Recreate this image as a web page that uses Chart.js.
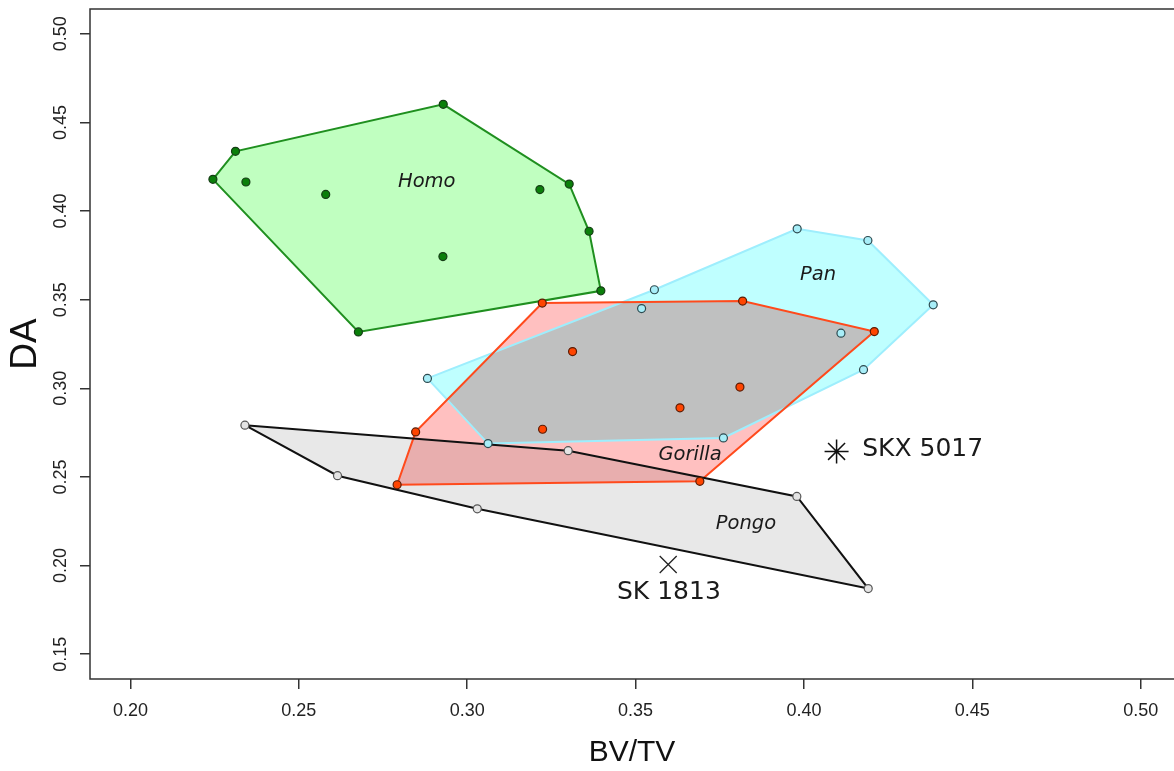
<!DOCTYPE html>
<html>
<head>
<meta charset="utf-8">
<script src="https://cdn.jsdelivr.net/npm/chart.js@4.4.1/dist/chart.umd.min.js"></script>
<style>
  html, body { margin: 0; padding: 0; background: #fff; overflow: hidden; }
  canvas { display: block; }
</style>
</head>
<body>
<canvas id="hullChart" width="1174" height="771"></canvas>
<script>
// Specimen values (BV/TV on x, DA on y)
const homoBV = [0.2245, 0.2312, 0.2343, 0.2580, 0.2929, 0.3216, 0.3303, 0.3362, 0.2928, 0.3397, 0.2677];
const homoDA = [0.4179, 0.4337, 0.4164, 0.4094, 0.4602, 0.4121, 0.4152, 0.3886, 0.3743, 0.3550, 0.3318];
const homoHull = [0, 1, 4, 6, 7, 9, 10];

const panBV = [0.2882, 0.3062, 0.3518, 0.3556, 0.3761, 0.3980, 0.4110, 0.4177, 0.4190, 0.4384];
const panDA = [0.3056, 0.2688, 0.3450, 0.3556, 0.2720, 0.3900, 0.3311, 0.3105, 0.3834, 0.3471];
const panHull = [0, 3, 5, 8, 9, 7, 4, 1];

const gorillaBV = [0.2792, 0.2847, 0.3223, 0.3224, 0.3313, 0.3632, 0.3691, 0.3810, 0.3818, 0.4209];
const gorillaDA = [0.2456, 0.2754, 0.3481, 0.2769, 0.3207, 0.2890, 0.2475, 0.3007, 0.3492, 0.3320];
const gorillaHull = [2, 8, 9, 6, 0, 1];

const pongoBV = [0.2340, 0.2615, 0.3030, 0.3300, 0.3979, 0.4191];
const pongoDA = [0.2792, 0.2507, 0.2320, 0.2648, 0.2390, 0.1870];
const pongoHull = [0, 3, 4, 5, 2, 1];

// fossil specimens
const fossilNames = ["SKX 5017", "SK 1813"];
const fossilBV = [0.4097, 0.3597];
const fossilDA = [0.2644, 0.2006];
const fossilLabelBV = [0.4173, 0.3599];
const fossilLabelDA = [0.2656, 0.1846];

// genus labels
const genusNames = ["Homo", "Pan", "Gorilla", "Pongo"];
const genusLabelBV = [0.2880, 0.4042, 0.3662, 0.3828];
const genusLabelDA = [0.4162, 0.3641, 0.2622, 0.2237];

// axes
const xTicks = [0.20, 0.25, 0.30, 0.35, 0.40, 0.45, 0.50];
const yTicks = [0.15, 0.20, 0.25, 0.30, 0.35, 0.40, 0.45, 0.50];

function toPoints(bv, da) {
    return bv.map((v, i) => ({ x: v, y: da[i] }));
}

function hullPath(bv, da, hull) {
    const pts = hull.map(i => ({ x: bv[i], y: da[i] }));
    pts.push(pts[0]); // close the polygon
    return pts;
}

function hullSet(bv, da, hull, line, fill) {
    return {
        data: hullPath(bv, da, hull),
        showLine: true,
        fill: "shape",
        borderColor: line,
        backgroundColor: fill,
        borderWidth: 2,
        pointRadius: 0,
        tension: 0
    };
}

function pointSet(bv, da, fill, edge) {
    return {
        data: toPoints(bv, da),
        pointStyle: "circle",
        pointRadius: 4,
        pointBackgroundColor: fill,
        pointBorderColor: edge,
        pointBorderWidth: 1.2
    };
}

// fills are multiplied so overlaps darken like in the original
const blendFills = {
    id: "blendFills",
    beforeDraw(chart) {
        const ctx = chart.ctx;
        ctx.save();
        ctx.fillStyle = "#fff";
        ctx.fillRect(0, 0, chart.width, chart.height);
        ctx.restore();
        ctx.globalCompositeOperation = "multiply";
    },
    beforeDatasetDraw(chart) {
        // all fills are done by now, lines and points go on normally
        chart.ctx.globalCompositeOperation = "source-over";
    },
    afterDraw(chart) {
        chart.ctx.globalCompositeOperation = "source-over";
    }
};

const frameBox = {
    id: "frameBox",
    afterDraw(chart) {
        const { ctx, chartArea } = chart;
        ctx.save();
        ctx.strokeStyle = "#333";
        ctx.lineWidth = 1.5;
        ctx.beginPath();
        ctx.moveTo(chart.width, chartArea.top);
        ctx.lineTo(chartArea.left, chartArea.top);
        ctx.lineTo(chartArea.left, chartArea.bottom);
        ctx.lineTo(chart.width, chartArea.bottom);
        ctx.stroke();
        ctx.restore();
    }
};

const textLabels = {
    id: "textLabels",
    afterDatasetsDraw(chart) {
        const { ctx, scales: { x, y } } = chart;
        ctx.save();
        ctx.globalCompositeOperation = "source-over";
        ctx.fillStyle = "#1a1a1a";
        ctx.textBaseline = "middle";
        ctx.textAlign = "center";
        ctx.font = "italic 19.5px 'DejaVu Sans'";
        genusNames.forEach((name, i) => {
            ctx.fillText(name, x.getPixelForValue(genusLabelBV[i]), y.getPixelForValue(genusLabelDA[i]));
        });
        ctx.font = "25px 'DejaVu Sans'";
        ctx.textAlign = "left";
        ctx.fillText(fossilNames[0], x.getPixelForValue(fossilLabelBV[0]), y.getPixelForValue(fossilLabelDA[0]));
        ctx.textAlign = "center";
        ctx.fillText(fossilNames[1], x.getPixelForValue(fossilLabelBV[1]), y.getPixelForValue(fossilLabelDA[1]));
        ctx.restore();
    }
};

const ctx = document.getElementById("hullChart").getContext("2d");

new Chart(ctx, {
    type: "scatter",
    data: {
        datasets: [
            {
                data: [{ x: fossilBV[0], y: fossilDA[0] }],
                pointStyle: "star",
                pointRadius: 12,
                pointBorderColor: "#111",
                pointBorderWidth: 1.5
            },
            {
                data: [{ x: fossilBV[1], y: fossilDA[1] }],
                pointStyle: "crossRot",
                pointRadius: 12,
                pointBorderColor: "#222",
                pointBorderWidth: 1.3
            },
            pointSet(homoBV, homoDA, "#0b7f0b", "#163d16"),
            pointSet(gorillaBV, gorillaDA, "#ff4500", "#5a1c05"),
            pointSet(panBV, panDA, "#a8eef8", "#2d4a4f"),
            pointSet(pongoBV, pongoDA, "#e4e4e4", "#555"),
            hullSet(pongoBV, pongoDA, pongoHull, "#111", "#e8e8e8"),
            hullSet(gorillaBV, gorillaDA, gorillaHull, "#ff4a1c", "#ffc0c0"),
            hullSet(panBV, panDA, panHull, "#9eeefd", "#bfffff"),
            hullSet(homoBV, homoDA, homoHull, "#1f8f1f", "#c0ffc0")
        ]
    },
    options: {
        responsive: false,
        animation: false,
        devicePixelRatio: 1,
        events: [],
        layout: { autoPadding: false, padding: { top: 9, right: 0, left: 0, bottom: 0 } },
        plugins: {
            legend: { display: false },
            tooltip: { enabled: false },
            filler: { drawTime: "beforeDatasetsDraw" }
        },
        scales: {
            x: {
                type: "linear",
                min: 0.188,
                max: 0.5099,
                bounds: "data",
                afterBuildTicks: s => { s.ticks = xTicks.map(v => ({ value: v })); },
                afterFit: s => { s.height = 92; s.paddingLeft = 0; s.paddingRight = 0; },
                ticks: {
                    callback: v => v.toFixed(2),
                    autoSkip: false,
                    maxRotation: 0,
                    padding: 11,
                    color: "#222",
                    font: { family: "Liberation Sans", size: 18 }
                },
                grid: { display: true, drawOnChartArea: false, drawTicks: true, tickLength: 10, color: "#333", lineWidth: 1.5 },
                border: { display: false },
                title: {
                    display: true,
                    text: "BV/TV",
                    color: "#111",
                    font: { family: "Liberation Sans", size: 30 },
                    padding: { top: 0, bottom: 0 }
                }
            },
            y: {
                type: "linear",
                min: 0.136,
                max: 0.514,
                bounds: "data",
                afterBuildTicks: s => { s.ticks = yTicks.map(v => ({ value: v })); },
                afterFit: s => { s.width = 90; s.paddingTop = 0; s.paddingBottom = 0; },
                ticks: {
                    callback: v => v.toFixed(2),
                    autoSkip: false,
                    minRotation: 90,
                    maxRotation: 90,
                    crossAlign: "center",
                    padding: 1.5,
                    color: "#222",
                    font: { family: "Liberation Sans", size: 18, lineHeight: 0.8 }
                },
                grid: { display: true, drawOnChartArea: false, drawTicks: true, tickLength: 10, color: "#333", lineWidth: 1.5 },
                border: { display: false },
                title: {
                    display: true,
                    text: "DA",
                    color: "#111",
                    font: { family: "Liberation Sans", size: 37 },
                    padding: { top: 4, bottom: 0 }
                }
            }
        }
    },
    plugins: [blendFills, frameBox, textLabels]
});
</script>
</body>
</html>
